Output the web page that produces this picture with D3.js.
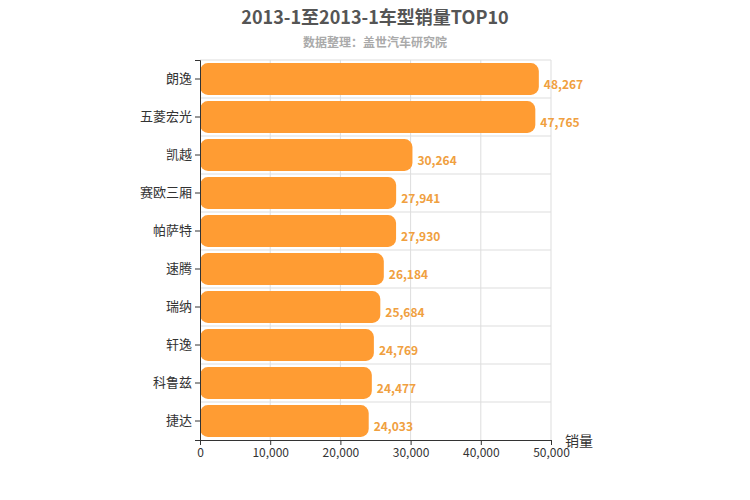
<!DOCTYPE html>
<html><head><meta charset="utf-8">
<script src="https://cdn.jsdelivr.net/npm/d3@7"></script>
<style>body{margin:0;background:#fff}text{font-family:"Microsoft YaHei","Noto Sans CJK SC",sans-serif}</style>
</head><body><svg id="c" width="750" height="500"></svg>
<script>
const categories=["朗逸","五菱宏光","凯越","赛欧三厢","帕萨特","速腾","瑞纳","轩逸","科鲁兹","捷达"];
const values=[48267,47765,30264,27941,27930,26184,25684,24769,24477,24033];
const ticks=[0,10000,20000,30000,40000,50000];
const svg=d3.select("#c");
const x=d3.scaleLinear().domain([0,50000]).range([200,551]);
const y=d3.scaleBand().domain(categories).range([60,440]).paddingInner(0.16).paddingOuter(0.08);
const yb=d3.scaleBand().domain(categories).range([60,440]);
const g=svg.append("g");
// grid
g.selectAll("line.v").data(ticks.slice(1)).join("line").attr("x1",d=>x(d)).attr("x2",d=>x(d)).attr("y1",60).attr("y2",440).attr("stroke","#ddd");
g.selectAll("line.h").data(categories).join("line").attr("x1",200).attr("x2",551).attr("y1",d=>yb(d)).attr("y2",d=>yb(d)).attr("stroke","#ddd");
g.selectAll("rect").data(values).join("rect").attr("x",x(0)).attr("y",(d,i)=>y(categories[i])).attr("width",d=>x(d)-x(0)).attr("height",y.bandwidth()).attr("rx",8).attr("fill","#ff9c33");
g.selectAll("text.v").data(values).join("text").attr("x",d=>x(d)+5).attr("y",(d,i)=>y(categories[i])+y.bandwidth()/2+10).attr("font-size",12).attr("font-weight","bold").attr("fill","#f0a040").text(d=>d3.format(",")(d));
const xa=svg.append("g").attr("transform","translate(0,440)").call(d3.axisBottom(x).tickValues(ticks).tickFormat(d3.format(",")).tickSize(5));
xa.selectAll("text").attr("font-size",12).attr("fill","#333");
xa.selectAll("line,path").attr("stroke","#333");
const ya=svg.append("g").attr("transform","translate(200,0)").call(d3.axisLeft(yb).tickSize(5));
ya.selectAll("text").attr("font-size",13).attr("fill","#333");
ya.selectAll("line,path").attr("stroke","#333");
svg.append("text").attr("x",565).attr("y",446).attr("font-size",14).attr("fill","#333").text("销量");
svg.append("text").attr("x",375).attr("y",24).attr("text-anchor","middle").attr("font-size",18).attr("font-weight","bold").attr("fill","#555").text("2013-1至2013-1车型销量TOP10");
svg.append("text").attr("x",375).attr("y",47).attr("text-anchor","middle").attr("font-size",12).attr("font-weight","bold").attr("fill","#aaa").text("数据整理：盖世汽车研究院");
</script></body></html>
